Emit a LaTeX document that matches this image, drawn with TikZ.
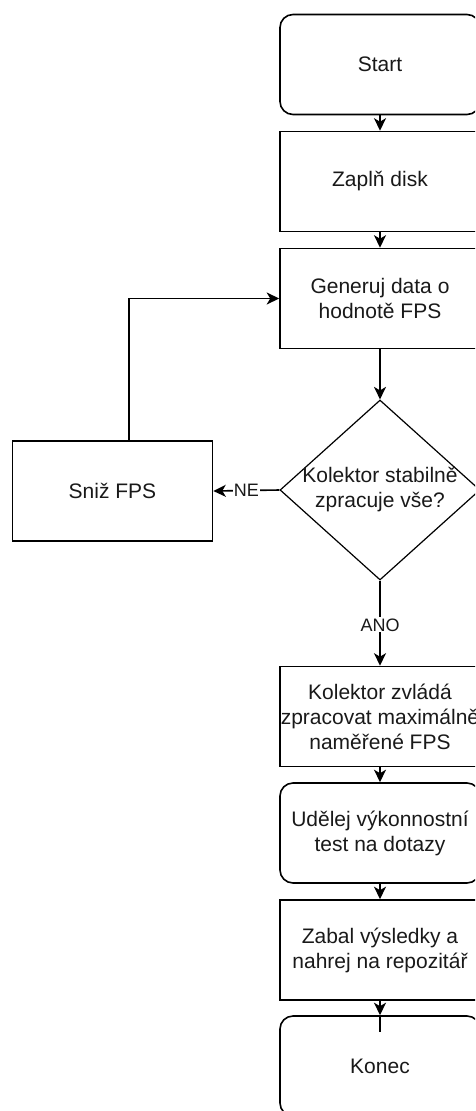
\documentclass[tikz,border=0pt]{standalone}
\usepackage{fontspec}
\setmainfont{Liberation Sans}
\usetikzlibrary{arrows.meta,shapes.geometric,calc}
\begin{document}
\begin{tikzpicture}[x=1pt,y=-1pt,
  every node/.style={font=\fontsize{21}{25}\selectfont, align=center, text=black!90},
  procbox/.style={draw, line width=1.6pt, minimum width=200pt, minimum height=100pt, inner sep=0pt},
  termbox/.style={procbox, rounded corners=13pt},
  decbox/.style={draw, diamond, line width=1.2pt, minimum width=200pt, minimum height=180pt, inner sep=0pt, aspect=1.11},
  conn/.style={line width=1.6pt, -{Stealth[length=12.5pt,width=12pt,inset=3.5pt]}},
  lbl/.style={fill=white, inner sep=1pt, font=\fontsize{18}{21}\selectfont}
]
\useasboundingbox (0,0) rectangle (475,1111);
\clip (0,0) rectangle (475,1111);
\node[termbox] (start) at (380,64.5) {Start};
\node[procbox] (zap) at (380,181.5) {Zaplň disk};
\node[procbox] (gen) at (380,298.5) {Generuj data o\\hodnotě FPS};
\node[decbox] (dec) at (380,490) {};
\node (dect) at (380,490) {Kolektor stabilně\\zpracuje vše?};
\node[procbox] (sniz) at (112.5,491) {Sniž FPS};
\node[procbox] (kol) at (380,716.5) {Kolektor zvládá\\zpracovat maximálně\\naměřené FPS};
\node[termbox] (ude) at (380,833) {Udělej výkonnostní\\test na dotazy};
\node[procbox] (zab) at (380,950) {Zabal výsledky a\\nahrej na repozitář};
\node[termbox] (kon) at (380,1066) {Konec};
\coordinate (konin) at ($(kon.north)+(0,17)$);

\draw[conn] (start) -- (zap);
\draw[conn] (zap) -- (gen);
\draw[conn] (gen) -- (dec.north);
\draw[conn] (dec.west) -- node[lbl] (ne) {NE} (sniz.east);
\draw[conn] ($(sniz.north)+(16.5,0)$) |- (gen.west);
\draw[conn] (dec.south) -- node[lbl, pos=0.52] (ano) {ANO} (kol.north);
\draw[conn] (kol) -- (ude);
\draw[conn] (ude) -- (zab);
\draw[conn] (zab) -- (kon.north);
\draw[line width=1.6pt] (kon.north) -- (konin);
\end{tikzpicture}
\end{document}
